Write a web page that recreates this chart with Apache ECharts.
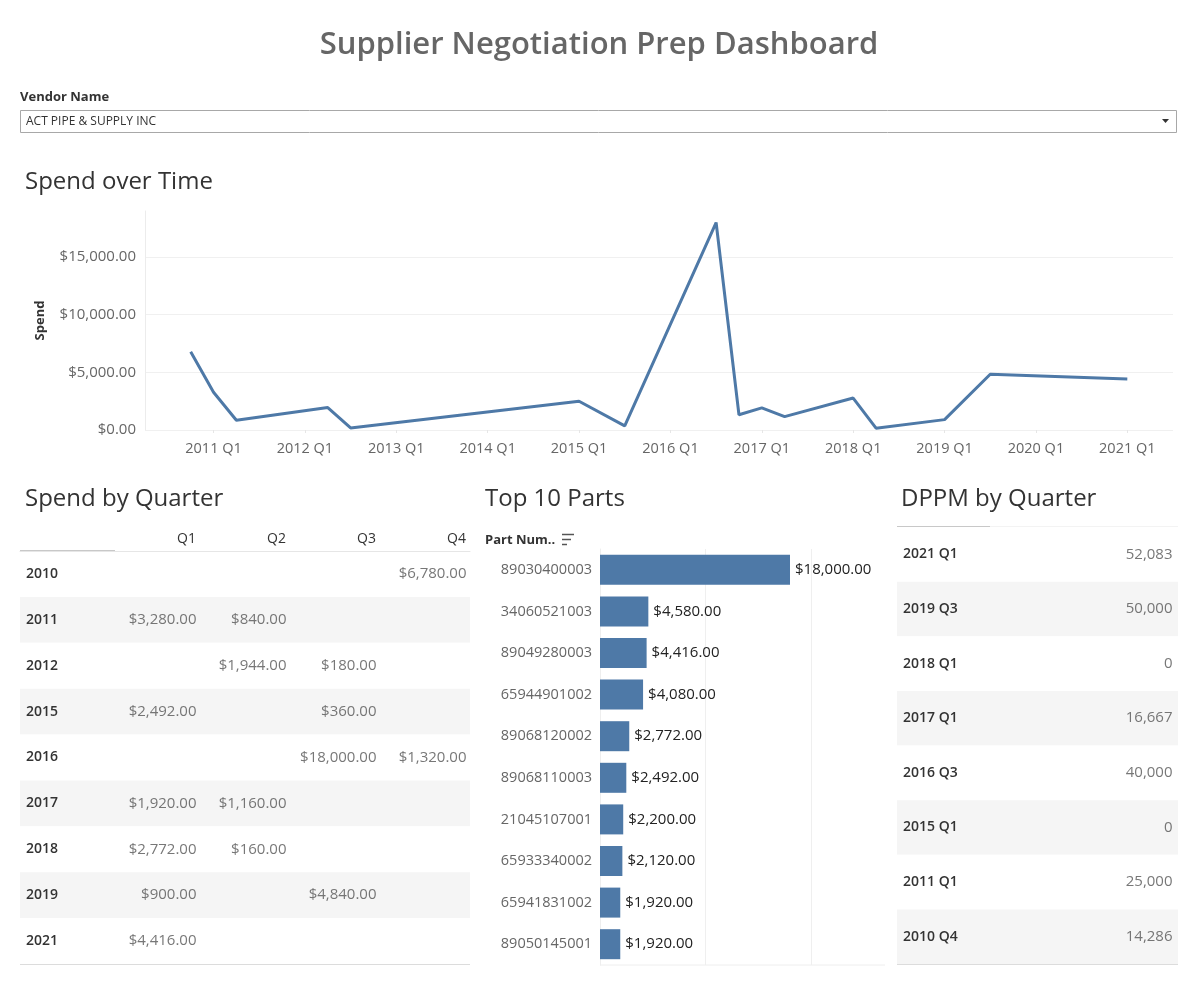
<!DOCTYPE html>
<html>
<head>
<meta charset="utf-8">
<script src="https://cdn.jsdelivr.net/npm/echarts@6/dist/echarts.min.js"></script>
<style>
  html, body { margin: 0; padding: 0; background: #fff; }
  #main { width: 1200px; height: 982px; }
</style>
</head>
<body>
<div id="main"></div>
<script>
// spend by quarter (table rows = years)
var years = ['2010', '2011', '2012', '2015', '2016', '2017', '2018', '2019', '2021'];
var quarterHeaders = ['Q1', 'Q2', 'Q3', 'Q4'];
var q1Spend = [null, 3280, null, 2492, null, 1920, 2772, 900, 4416];
var q2Spend = [null, 840, 1944, null, null, 1160, 160, null, null];
var q3Spend = [null, null, 180, 360, 18000, null, null, 4840, null];
var q4Spend = [6780, null, null, null, 1320, null, null, null, null];

// top 10 parts
var parts = ['89030400003', '34060521003', '89049280003', '65944901002', '89068120002',
  '89068110003', '21045107001', '65933340002', '65941831002', '89050145001'];
var partSpend = [18000, 4580, 4416, 4080, 2772, 2492, 2200, 2120, 1920, 1920];

// dppm
var dppmQuarters = ['2021 Q1', '2019 Q3', '2018 Q1', '2017 Q1', '2016 Q3', '2015 Q1', '2011 Q1', '2010 Q4'];
var dppmValues = [52083, 50000, 0, 16667, 40000, 0, 25000, 14286];

var FONT = 'Open Sans';
var BLUE = '#4e79a7';

function money(v) {
  return '$' + v.toLocaleString('en-US', { minimumFractionDigits: 2, maximumFractionDigits: 2 });
}

// quarter axis 2010 Q2 .. 2021 Q3 (continuous time axis in the original)
var quarterAxis = [];
for (var y = 2010; y <= 2021; y++) {
  for (var q = 1; q <= 4; q++) {
    if ((y > 2010 || q >= 2) && (y < 2021 || q <= 3)) quarterAxis.push(y + ' Q' + q);
  }
}
var spendCols = [q1Spend, q2Spend, q3Spend, q4Spend];
var lineValues = quarterAxis.map(function (label) {
  var bits = label.split(' ');
  var row = years.indexOf(bits[0]);
  var col = +bits[1].charAt(1) - 1;
  return row < 0 ? null : spendCols[col][row];
});

var tableCells = [];
spendCols.forEach(function (col, c) {
  col.forEach(function (v, r) {
    if (v != null) tableCells.push([c + 2, years[r], v]);
  });
});

var dppmCells = dppmValues.map(function (v, i) { return [1, dppmQuarters[i], v]; });

function txt(x, y, text, size, opts) {
  opts = opts || {};
  return {
    type: 'text', x: x, y: y, silent: true,
    style: {
      text: text, fontSize: size, fontFamily: FONT,
      fontWeight: opts.weight || 'normal', fill: opts.color || '#333',
      align: opts.align || 'left', verticalAlign: 'middle'
    }
  };
}
function ln(x1, y1, x2, y2, color, w) {
  return { type: 'line', silent: true, shape: { x1: x1, y1: y1, x2: x2, y2: y2 },
    style: { stroke: color, lineWidth: w || 1 } };
}

var chart = echarts.init(document.getElementById('main'));

var option = {
  animation: false,
  textStyle: { fontFamily: FONT },
  graphic: [
    txt(599, 45, 'Supplier Negotiation Prep Dashboard', 31, { color: '#666', align: 'center', weight: 600 }),
    txt(20, 97, 'Vendor Name', 13, { weight: 'bold' }),
    { type: 'rect', silent: true, shape: { x: 20.5, y: 110.5, width: 1156, height: 22 },
      style: { fill: '#fff', stroke: '#a8a8a8' } },
    txt(26, 121.5, 'ACT PIPE & SUPPLY INC', 12),
    { type: 'polygon', silent: true, shape: { points: [[1162, 119], [1169, 119], [1165.5, 123]] },
      style: { fill: '#333' } },
    txt(25, 182, 'Spend over Time', 24),
    txt(25, 499, 'Spend by Quarter', 24),
    txt(485, 499, 'Top 10 Parts', 24),
    txt(901, 499, 'DPPM by Quarter', 24),
    txt(485, 540, 'Part Num..', 13, { weight: 'bold' }),
    ln(562, 534.5, 574, 534.5, '#555', 1.5),
    ln(562, 539.5, 571, 539.5, '#555', 1.5),
    ln(562, 544.5, 567, 544.5, '#555', 1.5),
    ln(20, 551, 115, 551, '#c8c8c8', 2),
    ln(20, 964, 470, 964, '#d0d0d0', 1.5),
    ln(897, 527, 1178, 527, '#e6e6e6', 1),
    ln(897, 527, 990, 527, '#c8c8c8', 2),
    ln(897, 964, 1178, 964, '#d0d0d0', 1.5),
    ln(600, 965, 885, 965, '#eeeeee', 1)
  ],
  grid: [
    { left: 145, right: 27, top: 211, bottom: 552 },
    { left: 20, width: 450, top: 551, height: 413 },
    { left: 600, width: 285, top: 549, height: 416 },
    { left: 897, width: 281, top: 527, height: 437 }
  ],
  xAxis: [
    {
      gridIndex: 0, type: 'category', data: quarterAxis, boundaryGap: false,
      axisLine: { show: false },
      axisTick: { show: true, length: 3, lineStyle: { color: '#e6e6e6' },
        interval: function (i, v) { return /Q1$/.test(v); } },
      axisLabel: { color: '#666', fontSize: 14.5, margin: 11,
        interval: function (i, v) { return /Q1$/.test(v); } }
    },
    {
      gridIndex: 1, type: 'value', min: 0, max: 5, interval: 1, position: 'top',
      axisLine: { show: true, lineStyle: { color: '#e6e6e6' } },
      axisTick: { show: false }, splitLine: { show: false },
      axisLabel: { color: '#333', fontSize: 14, margin: 5, align: 'right', padding: [0, 4, 0, 0],
        formatter: function (v) { return quarterHeaders[v - 2] || ''; } }
    },
    {
      gridIndex: 2, type: 'value', min: 0, max: 27000, interval: 10000,
      axisLine: { show: false }, axisTick: { show: false }, axisLabel: { show: false },
      splitLine: { show: true, showMaxLine: false, lineStyle: { color: '#efefef' } }
    },
    { gridIndex: 3, type: 'value', min: 0, max: 1, show: false }
  ],
  yAxis: [
    {
      gridIndex: 0, type: 'value', min: 0, max: 19000, interval: 5000,
      name: 'Spend', nameLocation: 'middle', nameGap: 98,
      nameTextStyle: { color: '#333', fontWeight: 'bold', fontSize: 13 },
      axisLine: { show: true, lineStyle: { color: '#ececec' } },
      axisTick: { show: false },
      splitLine: { showMaxLine: false, lineStyle: { color: '#f0f0f0' } },
      axisLabel: { color: '#666', fontSize: 15, margin: 9, showMaxLabel: false, formatter: money }
    },
    {
      gridIndex: 1, type: 'category', data: years, inverse: true,
      axisLine: { show: false }, axisTick: { show: false },
      splitArea: { show: true, areaStyle: { color: ['#ffffff', '#f5f5f5'] } },
      axisLabel: { inside: true, margin: 6, color: '#333', fontWeight: 600, fontSize: 14 }
    },
    {
      gridIndex: 2, type: 'category', data: parts, inverse: true,
      axisLine: { show: true, lineStyle: { color: '#eeeeee' } }, axisTick: { show: false },
      axisLabel: { color: '#666', fontSize: 14.5, margin: 8 }
    },
    {
      gridIndex: 3, type: 'category', data: dppmQuarters, inverse: true,
      axisLine: { show: false }, axisTick: { show: false },
      splitArea: { show: true, areaStyle: { color: ['#ffffff', '#f5f5f5'] } },
      axisLabel: { inside: true, margin: 6, color: '#333', fontWeight: 600, fontSize: 14 }
    }
  ],
  series: [
    {
      type: 'line', xAxisIndex: 0, yAxisIndex: 0, data: lineValues, connectNulls: true,
      showSymbol: false, symbol: 'none', lineStyle: { color: BLUE, width: 3 }, silent: true
    },
    {
      type: 'scatter', xAxisIndex: 1, yAxisIndex: 1, data: tableCells, symbolSize: 1,
      itemStyle: { color: 'rgba(0,0,0,0)' }, silent: true,
      label: { show: true, position: 'left', distance: 3, color: '#555', fontSize: 15,
        formatter: function (p) { return money(p.value[2]); } }
    },
    {
      type: 'bar', xAxisIndex: 2, yAxisIndex: 2, data: partSpend, barWidth: 30,
      itemStyle: { color: BLUE }, silent: true,
      label: { show: true, position: 'right', distance: 5, color: '#222', fontSize: 15,
        formatter: function (p) { return money(p.value); } }
    },
    {
      type: 'scatter', xAxisIndex: 3, yAxisIndex: 3, data: dppmCells, symbolSize: 1,
      itemStyle: { color: 'rgba(0,0,0,0)' }, silent: true,
      label: { show: true, position: 'left', distance: 5, color: '#555', fontSize: 15,
        formatter: function (p) { return p.value[2].toLocaleString('en-US'); } }
    }
  ]
};

chart.setOption(option);
</script>
</body>
</html>
